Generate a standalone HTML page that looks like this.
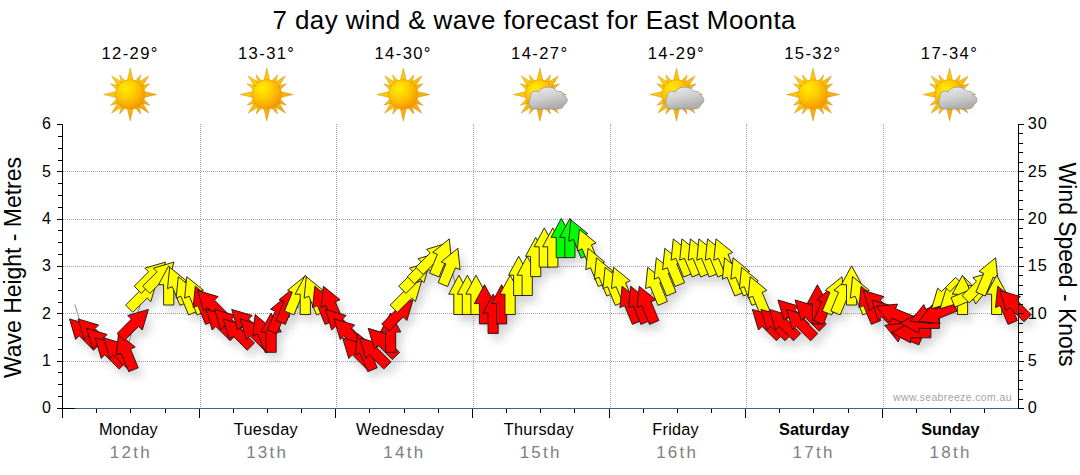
<!DOCTYPE html>
<html><head><meta charset="utf-8"><title>7 day wind &amp; wave forecast for East Moonta</title>
<style>html,body{margin:0;padding:0;background:#fff;}body{width:1080px;height:475px;overflow:hidden;font-family:"Liberation Sans",sans-serif;}svg{display:block;}text{font-family:"Liberation Sans",sans-serif;}</style>
</head><body>
<svg width="1080" height="475" viewBox="0 0 1080 475">
<defs>
<radialGradient id="sunG" cx="0.36" cy="0.30" r="0.78"><stop offset="0" stop-color="#ffee00"/><stop offset="0.45" stop-color="#ffc800"/><stop offset="1" stop-color="#f28e00"/></radialGradient>
<linearGradient id="rayG" x1="0" y1="0" x2="1" y2="1"><stop offset="0" stop-color="#ffe000"/><stop offset="1" stop-color="#f59a10"/></linearGradient>
<linearGradient id="cloudG" x1="0" y1="0" x2="0.35" y2="1"><stop offset="0" stop-color="#ececec"/><stop offset="0.55" stop-color="#d0d0d0"/><stop offset="1" stop-color="#aeaeae"/></linearGradient>
<filter id="sh" x="-50%" y="-50%" width="200%" height="200%"><feGaussianBlur stdDeviation="5"/></filter>
</defs>
<rect width="1080" height="475" fill="#ffffff"/>
<text x="534" y="29" font-size="26" text-anchor="middle" textLength="523" lengthAdjust="spacing" fill="#000">7 day wind &amp; wave forecast for East Moonta</text>
<text x="129.4" y="59" font-size="16.6" text-anchor="middle" textLength="56.0" lengthAdjust="spacing" fill="#000">12-29°</text>
<g transform="translate(130.2,94.5)"><path d="M3.20 -13.00L0.00 -26.40L-3.20 -13.00ZM8.40 -10.23L10.64 -19.60L4.01 -12.62ZM11.46 -6.93L18.53 -18.53L6.93 -11.46ZM12.62 -4.01L19.60 -10.64L10.23 -8.40ZM13.00 3.20L26.40 -0.00L13.00 -3.20ZM10.23 8.40L19.60 10.64L12.62 4.01ZM6.93 11.46L18.53 18.53L11.46 6.93ZM4.01 12.62L10.64 19.60L8.40 10.23ZM-3.20 13.00L0.00 26.40L3.20 13.00ZM-8.40 10.23L-10.64 19.60L-4.01 12.62ZM-11.46 6.93L-18.53 18.53L-6.93 11.46ZM-12.62 4.01L-19.60 10.64L-10.23 8.40ZM-13.00 -3.20L-26.40 0.00L-13.00 3.20ZM-10.23 -8.40L-19.60 -10.64L-12.62 -4.01ZM-6.93 -11.46L-18.53 -18.53L-11.46 -6.93ZM-4.01 -12.62L-10.64 -19.60L-8.40 -10.23Z" fill="url(#rayG)" stroke="#c8901c" stroke-width="0.5"/><circle cx="0" cy="0" r="14.8" fill="url(#sunG)" stroke="#e89a08" stroke-width="0.6"/></g>
<text x="266.0" y="59" font-size="16.6" text-anchor="middle" textLength="56.0" lengthAdjust="spacing" fill="#000">13-31°</text>
<g transform="translate(266.8,94.5)"><path d="M3.20 -13.00L0.00 -26.40L-3.20 -13.00ZM8.40 -10.23L10.64 -19.60L4.01 -12.62ZM11.46 -6.93L18.53 -18.53L6.93 -11.46ZM12.62 -4.01L19.60 -10.64L10.23 -8.40ZM13.00 3.20L26.40 -0.00L13.00 -3.20ZM10.23 8.40L19.60 10.64L12.62 4.01ZM6.93 11.46L18.53 18.53L11.46 6.93ZM4.01 12.62L10.64 19.60L8.40 10.23ZM-3.20 13.00L0.00 26.40L3.20 13.00ZM-8.40 10.23L-10.64 19.60L-4.01 12.62ZM-11.46 6.93L-18.53 18.53L-6.93 11.46ZM-12.62 4.01L-19.60 10.64L-10.23 8.40ZM-13.00 -3.20L-26.40 0.00L-13.00 3.20ZM-10.23 -8.40L-19.60 -10.64L-12.62 -4.01ZM-6.93 -11.46L-18.53 -18.53L-11.46 -6.93ZM-4.01 -12.62L-10.64 -19.60L-8.40 -10.23Z" fill="url(#rayG)" stroke="#c8901c" stroke-width="0.5"/><circle cx="0" cy="0" r="14.8" fill="url(#sunG)" stroke="#e89a08" stroke-width="0.6"/></g>
<text x="402.5" y="59" font-size="16.6" text-anchor="middle" textLength="56.0" lengthAdjust="spacing" fill="#000">14-30°</text>
<g transform="translate(403.3,94.5)"><path d="M3.20 -13.00L0.00 -26.40L-3.20 -13.00ZM8.40 -10.23L10.64 -19.60L4.01 -12.62ZM11.46 -6.93L18.53 -18.53L6.93 -11.46ZM12.62 -4.01L19.60 -10.64L10.23 -8.40ZM13.00 3.20L26.40 -0.00L13.00 -3.20ZM10.23 8.40L19.60 10.64L12.62 4.01ZM6.93 11.46L18.53 18.53L11.46 6.93ZM4.01 12.62L10.64 19.60L8.40 10.23ZM-3.20 13.00L0.00 26.40L3.20 13.00ZM-8.40 10.23L-10.64 19.60L-4.01 12.62ZM-11.46 6.93L-18.53 18.53L-6.93 11.46ZM-12.62 4.01L-19.60 10.64L-10.23 8.40ZM-13.00 -3.20L-26.40 0.00L-13.00 3.20ZM-10.23 -8.40L-19.60 -10.64L-12.62 -4.01ZM-6.93 -11.46L-18.53 -18.53L-11.46 -6.93ZM-4.01 -12.62L-10.64 -19.60L-8.40 -10.23Z" fill="url(#rayG)" stroke="#c8901c" stroke-width="0.5"/><circle cx="0" cy="0" r="14.8" fill="url(#sunG)" stroke="#e89a08" stroke-width="0.6"/></g>
<text x="539.1" y="59" font-size="16.6" text-anchor="middle" textLength="56.0" lengthAdjust="spacing" fill="#000">14-27°</text>
<g transform="translate(539.9,94.5)"><path d="M3.20 -13.00L0.00 -26.40L-3.20 -13.00ZM8.40 -10.23L10.64 -19.60L4.01 -12.62ZM11.46 -6.93L18.53 -18.53L6.93 -11.46ZM12.62 -4.01L19.60 -10.64L10.23 -8.40ZM13.00 3.20L26.40 -0.00L13.00 -3.20ZM10.23 8.40L19.60 10.64L12.62 4.01ZM6.93 11.46L18.53 18.53L11.46 6.93ZM4.01 12.62L10.64 19.60L8.40 10.23ZM-3.20 13.00L0.00 26.40L3.20 13.00ZM-8.40 10.23L-10.64 19.60L-4.01 12.62ZM-11.46 6.93L-18.53 18.53L-6.93 11.46ZM-12.62 4.01L-19.60 10.64L-10.23 8.40ZM-13.00 -3.20L-26.40 0.00L-13.00 3.20ZM-10.23 -8.40L-19.60 -10.64L-12.62 -4.01ZM-6.93 -11.46L-18.53 -18.53L-11.46 -6.93ZM-4.01 -12.62L-10.64 -19.60L-8.40 -10.23Z" fill="url(#rayG)" stroke="#c8901c" stroke-width="0.5"/><circle cx="0" cy="0" r="14.8" fill="url(#sunG)" stroke="#e89a08" stroke-width="0.6"/></g>
<g transform="translate(539.9,94.5)"><path d="M-5 14.5 C-11.5 14.5 -12 6.5 -9.5 3.5 C-10.5 -2 -5.5 -5 -1.5 -2.5 C1 -8.5 13.5 -9.5 17.5 -3 C21 -4 24.5 -1.5 23.5 1.2 C27.8 1.5 28.8 8 24.5 9.8 C24 13 21 14.5 18 14.5 Z" fill="url(#cloudG)" stroke="#8e8e8e" stroke-width="0.7"/></g>
<text x="675.7" y="59" font-size="16.6" text-anchor="middle" textLength="56.0" lengthAdjust="spacing" fill="#000">14-29°</text>
<g transform="translate(676.5,94.5)"><path d="M3.20 -13.00L0.00 -26.40L-3.20 -13.00ZM8.40 -10.23L10.64 -19.60L4.01 -12.62ZM11.46 -6.93L18.53 -18.53L6.93 -11.46ZM12.62 -4.01L19.60 -10.64L10.23 -8.40ZM13.00 3.20L26.40 -0.00L13.00 -3.20ZM10.23 8.40L19.60 10.64L12.62 4.01ZM6.93 11.46L18.53 18.53L11.46 6.93ZM4.01 12.62L10.64 19.60L8.40 10.23ZM-3.20 13.00L0.00 26.40L3.20 13.00ZM-8.40 10.23L-10.64 19.60L-4.01 12.62ZM-11.46 6.93L-18.53 18.53L-6.93 11.46ZM-12.62 4.01L-19.60 10.64L-10.23 8.40ZM-13.00 -3.20L-26.40 0.00L-13.00 3.20ZM-10.23 -8.40L-19.60 -10.64L-12.62 -4.01ZM-6.93 -11.46L-18.53 -18.53L-11.46 -6.93ZM-4.01 -12.62L-10.64 -19.60L-8.40 -10.23Z" fill="url(#rayG)" stroke="#c8901c" stroke-width="0.5"/><circle cx="0" cy="0" r="14.8" fill="url(#sunG)" stroke="#e89a08" stroke-width="0.6"/></g>
<g transform="translate(676.5,94.5)"><path d="M-5 14.5 C-11.5 14.5 -12 6.5 -9.5 3.5 C-10.5 -2 -5.5 -5 -1.5 -2.5 C1 -8.5 13.5 -9.5 17.5 -3 C21 -4 24.5 -1.5 23.5 1.2 C27.8 1.5 28.8 8 24.5 9.8 C24 13 21 14.5 18 14.5 Z" fill="url(#cloudG)" stroke="#8e8e8e" stroke-width="0.7"/></g>
<text x="812.2" y="59" font-size="16.6" text-anchor="middle" textLength="56.0" lengthAdjust="spacing" fill="#000">15-32°</text>
<g transform="translate(813.0,94.5)"><path d="M3.20 -13.00L0.00 -26.40L-3.20 -13.00ZM8.40 -10.23L10.64 -19.60L4.01 -12.62ZM11.46 -6.93L18.53 -18.53L6.93 -11.46ZM12.62 -4.01L19.60 -10.64L10.23 -8.40ZM13.00 3.20L26.40 -0.00L13.00 -3.20ZM10.23 8.40L19.60 10.64L12.62 4.01ZM6.93 11.46L18.53 18.53L11.46 6.93ZM4.01 12.62L10.64 19.60L8.40 10.23ZM-3.20 13.00L0.00 26.40L3.20 13.00ZM-8.40 10.23L-10.64 19.60L-4.01 12.62ZM-11.46 6.93L-18.53 18.53L-6.93 11.46ZM-12.62 4.01L-19.60 10.64L-10.23 8.40ZM-13.00 -3.20L-26.40 0.00L-13.00 3.20ZM-10.23 -8.40L-19.60 -10.64L-12.62 -4.01ZM-6.93 -11.46L-18.53 -18.53L-11.46 -6.93ZM-4.01 -12.62L-10.64 -19.60L-8.40 -10.23Z" fill="url(#rayG)" stroke="#c8901c" stroke-width="0.5"/><circle cx="0" cy="0" r="14.8" fill="url(#sunG)" stroke="#e89a08" stroke-width="0.6"/></g>
<text x="948.8" y="59" font-size="16.6" text-anchor="middle" textLength="56.0" lengthAdjust="spacing" fill="#000">17-34°</text>
<g transform="translate(949.6,94.5)"><path d="M3.20 -13.00L0.00 -26.40L-3.20 -13.00ZM8.40 -10.23L10.64 -19.60L4.01 -12.62ZM11.46 -6.93L18.53 -18.53L6.93 -11.46ZM12.62 -4.01L19.60 -10.64L10.23 -8.40ZM13.00 3.20L26.40 -0.00L13.00 -3.20ZM10.23 8.40L19.60 10.64L12.62 4.01ZM6.93 11.46L18.53 18.53L11.46 6.93ZM4.01 12.62L10.64 19.60L8.40 10.23ZM-3.20 13.00L0.00 26.40L3.20 13.00ZM-8.40 10.23L-10.64 19.60L-4.01 12.62ZM-11.46 6.93L-18.53 18.53L-6.93 11.46ZM-12.62 4.01L-19.60 10.64L-10.23 8.40ZM-13.00 -3.20L-26.40 0.00L-13.00 3.20ZM-10.23 -8.40L-19.60 -10.64L-12.62 -4.01ZM-6.93 -11.46L-18.53 -18.53L-11.46 -6.93ZM-4.01 -12.62L-10.64 -19.60L-8.40 -10.23Z" fill="url(#rayG)" stroke="#c8901c" stroke-width="0.5"/><circle cx="0" cy="0" r="14.8" fill="url(#sunG)" stroke="#e89a08" stroke-width="0.6"/></g>
<g transform="translate(949.6,94.5)"><path d="M-5 14.5 C-11.5 14.5 -12 6.5 -9.5 3.5 C-10.5 -2 -5.5 -5 -1.5 -2.5 C1 -8.5 13.5 -9.5 17.5 -3 C21 -4 24.5 -1.5 23.5 1.2 C27.8 1.5 28.8 8 24.5 9.8 C24 13 21 14.5 18 14.5 Z" fill="url(#cloudG)" stroke="#8e8e8e" stroke-width="0.7"/></g>
<line x1="63" y1="361.5" x2="1018" y2="361.5" stroke="#a0a0a0" stroke-width="1" stroke-dasharray="1 1" shape-rendering="crispEdges"/>
<line x1="63" y1="313.5" x2="1018" y2="313.5" stroke="#a0a0a0" stroke-width="1" stroke-dasharray="1 1" shape-rendering="crispEdges"/>
<line x1="63" y1="266.5" x2="1018" y2="266.5" stroke="#a0a0a0" stroke-width="1" stroke-dasharray="1 1" shape-rendering="crispEdges"/>
<line x1="63" y1="219.5" x2="1018" y2="219.5" stroke="#a0a0a0" stroke-width="1" stroke-dasharray="1 1" shape-rendering="crispEdges"/>
<line x1="63" y1="171.5" x2="1018" y2="171.5" stroke="#a0a0a0" stroke-width="1" stroke-dasharray="1 1" shape-rendering="crispEdges"/>
<line x1="200.5" y1="124" x2="200.5" y2="408" stroke="#a0a0a0" stroke-width="1" stroke-dasharray="1 1" shape-rendering="crispEdges"/>
<line x1="336.5" y1="124" x2="336.5" y2="408" stroke="#a0a0a0" stroke-width="1" stroke-dasharray="1 1" shape-rendering="crispEdges"/>
<line x1="473.5" y1="124" x2="473.5" y2="408" stroke="#a0a0a0" stroke-width="1" stroke-dasharray="1 1" shape-rendering="crispEdges"/>
<line x1="610.5" y1="124" x2="610.5" y2="408" stroke="#a0a0a0" stroke-width="1" stroke-dasharray="1 1" shape-rendering="crispEdges"/>
<line x1="746.5" y1="124" x2="746.5" y2="408" stroke="#a0a0a0" stroke-width="1" stroke-dasharray="1 1" shape-rendering="crispEdges"/>
<line x1="883.5" y1="124" x2="883.5" y2="408" stroke="#a0a0a0" stroke-width="1" stroke-dasharray="1 1" shape-rendering="crispEdges"/>
<polyline points="74.8,304.3 83.3,332.7 91.9,332.7 100.4,342.2 108.9,351.6 117.5,351.6 126.0,351.6 134.6,323.2 143.1,294.9 151.6,275.9 160.2,275.9 168.7,285.4 177.2,285.4 185.8,294.9 194.3,294.9 202.8,304.3 211.4,304.3 219.9,323.2 228.4,323.2 237.0,332.7 245.5,323.2 254.1,332.7 262.6,332.7 271.1,332.7 279.7,313.8 288.2,304.3 296.7,294.9 305.3,294.9 313.8,294.9 322.3,304.3 330.9,304.3 339.4,323.2 347.9,332.7 356.5,351.6 365.0,351.6 373.6,351.6 382.1,342.2 390.6,332.7 399.2,313.8 407.7,294.9 416.2,275.9 424.8,266.4 433.3,257.0 441.8,257.0 450.4,266.4 458.9,294.9 467.4,294.9 476.0,294.9 484.5,304.3 493.1,313.8 501.6,304.3 510.1,294.9 518.7,275.9 527.2,275.9 535.7,257.0 544.3,247.5 552.8,247.5 561.3,238.0 569.9,238.0 578.4,238.0 586.9,247.5 595.5,266.4 604.0,275.9 612.6,285.4 621.1,285.4 629.6,304.3 638.2,304.3 646.7,304.3 655.2,285.4 663.8,275.9 672.3,266.4 680.8,257.0 689.4,257.0 697.9,257.0 706.4,257.0 715.0,257.0 723.5,257.0 732.1,275.9 740.6,275.9 749.1,285.4 757.7,294.9 766.2,323.2 774.7,323.2 783.3,323.2 791.8,313.8 800.3,323.2 808.9,313.8 817.4,304.3 825.9,304.3 834.5,294.9 843.0,294.9 851.6,285.4 860.1,294.9 868.6,304.3 877.2,304.3 885.7,313.8 894.2,313.8 902.8,332.7 911.3,332.7 919.8,323.2 928.4,313.8 936.9,313.8 945.4,294.9 954.0,294.9 962.5,294.9 971.1,294.9 979.6,285.4 988.1,275.9 996.7,294.9 1005.2,304.3 1013.7,304.3" fill="none" stroke="#8c8c8c" stroke-width="1"/>
<g filter="url(#sh)" opacity="0.17" transform="translate(4.5,7)">
<polygon points="69.5,318.9 90.1,325.0 86.5,328.6 100.8,343.0 93.6,350.2 79.2,335.8 75.6,339.4" fill="#000"/>
<polygon points="78.0,318.9 98.6,325.0 95.0,328.6 109.3,343.0 102.1,350.2 87.8,335.8 84.2,339.4" fill="#000"/>
<polygon points="86.6,328.3 107.1,334.5 103.5,338.1 117.9,352.4 110.7,359.6 96.3,345.3 92.7,348.9" fill="#000"/>
<polygon points="95.1,337.8 115.7,343.9 112.1,347.5 126.4,361.9 119.2,369.1 104.8,354.8 101.2,358.4" fill="#000"/>
<polygon points="103.6,337.8 124.2,343.9 120.6,347.5 134.9,361.9 127.7,369.1 113.4,354.8 109.8,358.4" fill="#000"/>
<polygon points="118.5,333.5 135.2,347.1 130.5,349.1 138.2,367.8 128.8,371.7 121.0,353.0 116.3,354.9" fill="#000"/>
<polygon points="148.4,309.4 142.3,330.0 138.7,326.4 124.3,340.7 117.1,333.5 131.4,319.1 127.8,315.5" fill="#000"/>
<polygon points="156.9,281.0 150.8,301.6 147.2,298.0 132.8,312.3 125.6,305.1 140.0,290.7 136.4,287.1" fill="#000"/>
<polygon points="165.5,262.1 159.3,282.6 155.7,279.0 141.4,293.4 134.2,286.2 148.5,271.8 144.9,268.2" fill="#000"/>
<polygon points="174.0,262.1 167.9,282.6 164.3,279.0 149.9,293.4 142.7,286.2 157.0,271.8 153.4,268.2" fill="#000"/>
<polygon points="168.7,265.8 178.9,284.7 173.8,284.7 173.8,305.0 163.6,305.0 163.6,284.7 158.5,284.7" fill="#000"/>
<polygon points="169.7,267.3 186.4,280.8 181.7,282.8 189.4,301.5 180.0,305.4 172.3,286.7 167.5,288.6" fill="#000"/>
<polygon points="178.3,276.7 194.9,290.3 190.2,292.3 198.0,311.0 188.6,314.9 180.8,296.2 176.1,298.1" fill="#000"/>
<polygon points="186.8,276.7 203.5,290.3 198.7,292.3 206.5,311.0 197.1,314.9 189.3,296.2 184.6,298.1" fill="#000"/>
<polygon points="195.3,286.2 212.0,299.8 207.3,301.7 215.1,320.5 205.6,324.4 197.9,305.6 193.1,307.6" fill="#000"/>
<polygon points="197.5,290.5 218.1,296.6 214.5,300.2 228.8,314.6 221.6,321.8 207.3,307.4 203.7,311.0" fill="#000"/>
<polygon points="206.1,309.4 226.6,315.5 223.0,319.1 237.4,333.5 230.2,340.7 215.8,326.4 212.2,330.0" fill="#000"/>
<polygon points="214.6,309.4 235.2,315.5 231.6,319.1 245.9,333.5 238.7,340.7 224.3,326.4 220.7,330.0" fill="#000"/>
<polygon points="223.1,318.9 243.7,325.0 240.1,328.6 254.4,343.0 247.2,350.2 232.9,335.8 229.3,339.4" fill="#000"/>
<polygon points="231.7,309.4 252.2,315.5 248.6,319.1 263.0,333.5 255.8,340.7 241.4,326.4 237.8,330.0" fill="#000"/>
<polygon points="240.2,318.9 260.8,325.0 257.2,328.6 271.5,343.0 264.3,350.2 250.0,335.8 246.3,339.4" fill="#000"/>
<polygon points="255.1,314.6 271.7,328.2 267.0,330.1 274.8,348.9 265.4,352.8 257.6,334.0 252.9,336.0" fill="#000"/>
<polygon points="271.1,313.1 281.3,332.0 276.2,332.0 276.2,352.3 266.0,352.3 266.0,332.0 260.9,332.0" fill="#000"/>
<polygon points="287.2,295.7 289.4,317.0 284.6,315.1 276.9,333.8 267.4,329.9 275.2,311.2 270.5,309.2" fill="#000"/>
<polygon points="295.7,286.2 297.9,307.6 293.2,305.6 285.4,324.4 276.0,320.5 283.8,301.7 279.0,299.8" fill="#000"/>
<polygon points="304.2,276.7 306.4,298.1 301.7,296.2 293.9,314.9 284.5,311.0 292.3,292.3 287.6,290.3" fill="#000"/>
<polygon points="305.3,275.2 315.5,294.2 310.4,294.2 310.4,314.5 300.2,314.5 300.2,294.2 295.1,294.2" fill="#000"/>
<polygon points="306.3,276.7 323.0,290.3 318.2,292.3 326.0,311.0 316.6,314.9 308.8,296.2 304.1,298.1" fill="#000"/>
<polygon points="314.8,286.2 331.5,299.8 326.8,301.7 334.6,320.5 325.1,324.4 317.4,305.6 312.6,307.6" fill="#000"/>
<polygon points="323.4,286.2 340.0,299.8 335.3,301.7 343.1,320.5 333.7,324.4 325.9,305.6 321.2,307.6" fill="#000"/>
<polygon points="325.6,309.4 346.1,315.5 342.5,319.1 356.9,333.5 349.7,340.7 335.3,326.4 331.7,330.0" fill="#000"/>
<polygon points="334.1,318.9 354.7,325.0 351.1,328.6 365.4,343.0 358.2,350.2 343.8,335.8 340.2,339.4" fill="#000"/>
<polygon points="342.6,337.8 363.2,343.9 359.6,347.5 373.9,361.9 366.7,369.1 352.4,354.8 348.8,358.4" fill="#000"/>
<polygon points="357.5,333.5 374.2,347.1 369.5,349.1 377.2,367.8 367.8,371.7 360.0,353.0 355.3,354.9" fill="#000"/>
<polygon points="359.7,337.8 380.3,343.9 376.7,347.5 391.0,361.9 383.8,369.1 369.5,354.8 365.8,358.4" fill="#000"/>
<polygon points="368.2,328.3 388.8,334.5 385.2,338.1 399.6,352.4 392.3,359.6 378.0,345.3 374.4,348.9" fill="#000"/>
<polygon points="390.6,313.1 400.8,332.0 395.7,332.0 395.7,352.3 385.5,352.3 385.5,332.0 380.4,332.0" fill="#000"/>
<polygon points="413.0,299.9 406.9,320.5 403.3,316.9 388.9,331.2 381.7,324.0 396.0,309.7 392.4,306.1" fill="#000"/>
<polygon points="421.6,281.0 415.4,301.6 411.8,298.0 397.4,312.3 390.2,305.1 404.6,290.7 401.0,287.1" fill="#000"/>
<polygon points="430.1,262.1 423.9,282.6 420.3,279.0 406.0,293.4 398.8,286.2 413.1,271.8 409.5,268.2" fill="#000"/>
<polygon points="438.6,252.6 432.5,273.2 428.9,269.6 414.5,283.9 407.3,276.7 421.7,262.3 418.1,258.7" fill="#000"/>
<polygon points="447.2,243.1 441.0,263.7 437.4,260.1 423.1,274.4 415.8,267.2 430.2,252.9 426.6,249.3" fill="#000"/>
<polygon points="449.3,238.9 451.5,260.2 446.8,258.3 439.1,277.0 429.6,273.1 437.4,254.4 432.7,252.4" fill="#000"/>
<polygon points="457.9,248.3 460.1,269.7 455.4,267.8 447.6,286.5 438.2,282.6 445.9,263.9 441.2,261.9" fill="#000"/>
<polygon points="458.9,275.2 469.1,294.2 464.0,294.2 464.0,314.5 453.8,314.5 453.8,294.2 448.7,294.2" fill="#000"/>
<polygon points="467.4,275.2 477.6,294.2 472.5,294.2 472.5,314.5 462.3,314.5 462.3,294.2 457.2,294.2" fill="#000"/>
<polygon points="476.0,275.2 486.2,294.2 481.1,294.2 481.1,314.5 470.9,314.5 470.9,294.2 465.8,294.2" fill="#000"/>
<polygon points="484.5,284.7 494.7,303.6 489.6,303.6 489.6,323.9 479.4,323.9 479.4,303.6 474.3,303.6" fill="#000"/>
<polygon points="493.1,294.2 503.3,313.1 498.2,313.1 498.2,333.4 488.0,333.4 488.0,313.1 482.9,313.1" fill="#000"/>
<polygon points="501.6,284.7 511.8,303.6 506.7,303.6 506.7,323.9 496.5,323.9 496.5,303.6 491.4,303.6" fill="#000"/>
<polygon points="510.1,275.2 520.3,294.2 515.2,294.2 515.2,314.5 505.0,314.5 505.0,294.2 499.9,294.2" fill="#000"/>
<polygon points="518.7,256.3 528.9,275.2 523.8,275.2 523.8,295.5 513.6,295.5 513.6,275.2 508.5,275.2" fill="#000"/>
<polygon points="527.2,256.3 537.4,275.2 532.3,275.2 532.3,295.5 522.1,295.5 522.1,275.2 517.0,275.2" fill="#000"/>
<polygon points="535.7,237.4 545.9,256.3 540.8,256.3 540.8,276.6 530.6,276.6 530.6,256.3 525.5,256.3" fill="#000"/>
<polygon points="544.3,227.9 554.5,246.8 549.4,246.8 549.4,267.1 539.2,267.1 539.2,246.8 534.1,246.8" fill="#000"/>
<polygon points="552.8,227.9 563.0,246.8 557.9,246.8 557.9,267.1 547.7,267.1 547.7,246.8 542.6,246.8" fill="#000"/>
<polygon points="561.3,218.4 571.5,237.3 566.4,237.3 566.4,257.6 556.2,257.6 556.2,237.3 551.1,237.3" fill="#000"/>
<polygon points="569.9,218.4 580.1,237.3 575.0,237.3 575.0,257.6 564.8,257.6 564.8,237.3 559.7,237.3" fill="#000"/>
<polygon points="570.9,219.9 587.6,233.5 582.9,235.5 590.6,254.2 581.2,258.1 573.4,239.4 568.7,241.3" fill="#000"/>
<polygon points="579.4,229.4 596.1,243.0 591.4,244.9 599.2,263.7 589.7,267.6 582.0,248.8 577.3,250.8" fill="#000"/>
<polygon points="588.0,248.3 604.6,261.9 599.9,263.9 607.7,282.6 598.3,286.5 590.5,267.8 585.8,269.7" fill="#000"/>
<polygon points="596.5,257.8 613.2,271.4 608.5,273.3 616.2,292.1 606.8,296.0 599.0,277.2 594.3,279.2" fill="#000"/>
<polygon points="605.1,267.3 621.7,280.8 617.0,282.8 624.8,301.5 615.3,305.4 607.6,286.7 602.9,288.6" fill="#000"/>
<polygon points="613.6,267.3 630.2,280.8 625.5,282.8 633.3,301.5 623.9,305.4 616.1,286.7 611.4,288.6" fill="#000"/>
<polygon points="622.1,286.2 638.8,299.8 634.1,301.7 641.8,320.5 632.4,324.4 624.6,305.6 619.9,307.6" fill="#000"/>
<polygon points="630.7,286.2 647.3,299.8 642.6,301.7 650.4,320.5 640.9,324.4 633.2,305.6 628.5,307.6" fill="#000"/>
<polygon points="639.2,286.2 655.9,299.8 651.1,301.7 658.9,320.5 649.5,324.4 641.7,305.6 637.0,307.6" fill="#000"/>
<polygon points="647.7,267.3 664.4,280.8 659.7,282.8 667.4,301.5 658.0,305.4 650.3,286.7 645.5,288.6" fill="#000"/>
<polygon points="656.3,257.8 672.9,271.4 668.2,273.3 676.0,292.1 666.6,296.0 658.8,277.2 654.1,279.2" fill="#000"/>
<polygon points="664.8,248.3 681.5,261.9 676.7,263.9 684.5,282.6 675.1,286.5 667.3,267.8 662.6,269.7" fill="#000"/>
<polygon points="673.3,238.9 690.0,252.4 685.3,254.4 693.1,273.1 683.6,277.0 675.9,258.3 671.1,260.2" fill="#000"/>
<polygon points="681.9,238.9 698.5,252.4 693.8,254.4 701.6,273.1 692.2,277.0 684.4,258.3 679.7,260.2" fill="#000"/>
<polygon points="690.4,238.9 707.1,252.4 702.4,254.4 710.1,273.1 700.7,277.0 692.9,258.3 688.2,260.2" fill="#000"/>
<polygon points="698.9,238.9 715.6,252.4 710.9,254.4 718.7,273.1 709.2,277.0 701.5,258.3 696.8,260.2" fill="#000"/>
<polygon points="707.5,238.9 724.1,252.4 719.4,254.4 727.2,273.1 717.8,277.0 710.0,258.3 705.3,260.2" fill="#000"/>
<polygon points="716.0,238.9 732.7,252.4 728.0,254.4 735.7,273.1 726.3,277.0 718.5,258.3 713.8,260.2" fill="#000"/>
<polygon points="724.6,257.8 741.2,271.4 736.5,273.3 744.3,292.1 734.8,296.0 727.1,277.2 722.4,279.2" fill="#000"/>
<polygon points="733.1,257.8 749.7,271.4 745.0,273.3 752.8,292.1 743.4,296.0 735.6,277.2 730.9,279.2" fill="#000"/>
<polygon points="741.6,267.3 758.3,280.8 753.6,282.8 761.3,301.5 751.9,305.4 744.1,286.7 739.4,288.6" fill="#000"/>
<polygon points="750.2,276.7 766.8,290.3 762.1,292.3 769.9,311.0 760.4,314.9 752.7,296.2 748.0,298.1" fill="#000"/>
<polygon points="752.3,309.4 772.9,315.5 769.3,319.1 783.7,333.5 776.4,340.7 762.1,326.4 758.5,330.0" fill="#000"/>
<polygon points="760.9,309.4 781.4,315.5 777.8,319.1 792.2,333.5 785.0,340.7 770.6,326.4 767.0,330.0" fill="#000"/>
<polygon points="769.4,309.4 790.0,315.5 786.4,319.1 800.7,333.5 793.5,340.7 779.2,326.4 775.6,330.0" fill="#000"/>
<polygon points="777.9,299.9 798.5,306.1 794.9,309.7 809.3,324.0 802.1,331.2 787.7,316.9 784.1,320.5" fill="#000"/>
<polygon points="786.5,309.4 807.1,315.5 803.5,319.1 817.8,333.5 810.6,340.7 796.2,326.4 792.6,330.0" fill="#000"/>
<polygon points="795.0,299.9 815.6,306.1 812.0,309.7 826.3,324.0 819.1,331.2 804.8,316.9 801.2,320.5" fill="#000"/>
<polygon points="817.4,284.7 827.6,303.6 822.5,303.6 822.5,323.9 812.3,323.9 812.3,303.6 807.2,303.6" fill="#000"/>
<polygon points="833.4,286.2 835.6,307.6 830.9,305.6 823.2,324.4 813.7,320.5 821.5,301.7 816.8,299.8" fill="#000"/>
<polygon points="842.0,276.7 844.2,298.1 839.5,296.2 831.7,314.9 822.3,311.0 830.0,292.3 825.3,290.3" fill="#000"/>
<polygon points="850.5,276.7 852.7,298.1 848.0,296.2 840.2,314.9 830.8,311.0 838.6,292.3 833.9,290.3" fill="#000"/>
<polygon points="851.6,265.8 861.8,284.7 856.7,284.7 856.7,305.0 846.5,305.0 846.5,284.7 841.4,284.7" fill="#000"/>
<polygon points="852.6,276.7 869.2,290.3 864.5,292.3 872.3,311.0 862.9,314.9 855.1,296.2 850.4,298.1" fill="#000"/>
<polygon points="861.1,286.2 877.8,299.8 873.1,301.7 880.8,320.5 871.4,324.4 863.6,305.6 858.9,307.6" fill="#000"/>
<polygon points="863.3,290.5 883.9,296.6 880.3,300.2 894.6,314.6 887.4,321.8 873.1,307.4 869.5,311.0" fill="#000"/>
<polygon points="871.8,299.9 892.4,306.1 888.8,309.7 903.2,324.0 895.9,331.2 881.6,316.9 878.0,320.5" fill="#000"/>
<polygon points="876.1,306.3 897.5,304.1 895.5,308.8 914.3,316.6 910.4,326.0 891.6,318.2 889.7,322.9" fill="#000"/>
<polygon points="884.7,325.2 906.0,323.0 904.1,327.7 922.8,335.5 918.9,344.9 900.2,337.2 898.2,341.9" fill="#000"/>
<polygon points="891.7,332.7 910.6,322.5 910.6,327.6 930.9,327.6 930.9,337.8 910.6,337.8 910.6,342.9" fill="#000"/>
<polygon points="900.2,323.2 919.1,313.1 919.1,318.1 939.4,318.1 939.4,328.4 919.1,328.4 919.1,333.4" fill="#000"/>
<polygon points="910.3,321.3 923.8,304.6 925.8,309.3 944.5,301.6 948.4,311.0 929.7,318.8 931.6,323.5" fill="#000"/>
<polygon points="918.8,321.3 932.4,304.6 934.3,309.3 953.1,301.6 957.0,311.0 938.2,318.8 940.2,323.5" fill="#000"/>
<polygon points="931.6,308.7 937.7,288.1 941.3,291.7 955.7,277.4 962.9,284.6 948.6,299.0 952.2,302.6" fill="#000"/>
<polygon points="940.1,308.7 946.3,288.1 949.9,291.7 964.2,277.4 971.4,284.6 957.1,299.0 960.7,302.6" fill="#000"/>
<polygon points="962.5,275.2 972.7,294.2 967.6,294.2 967.6,314.5 957.4,314.5 957.4,294.2 952.3,294.2" fill="#000"/>
<polygon points="989.2,287.3 975.6,304.0 973.7,299.3 954.9,307.1 951.0,297.6 969.7,289.9 967.8,285.2" fill="#000"/>
<polygon points="993.4,271.5 987.3,292.1 983.7,288.5 969.3,302.8 962.1,295.6 976.5,281.3 972.9,277.7" fill="#000"/>
<polygon points="995.6,257.8 997.8,279.2 993.1,277.2 985.3,296.0 975.9,292.1 983.7,273.3 979.0,271.4" fill="#000"/>
<polygon points="996.7,275.2 1006.9,294.2 1001.8,294.2 1001.8,314.5 991.6,314.5 991.6,294.2 986.5,294.2" fill="#000"/>
<polygon points="997.7,286.2 1014.4,299.8 1009.6,301.7 1017.4,320.5 1008.0,324.4 1000.2,305.6 995.5,307.6" fill="#000"/>
<polygon points="999.9,290.5 1020.4,296.6 1016.8,300.2 1031.2,314.6 1024.0,321.8 1009.6,307.4 1006.0,311.0" fill="#000"/>
</g>
<g stroke="#141414" stroke-width="0.9" stroke-linejoin="miter">
<polygon points="69.5,318.9 90.1,325.0 86.5,328.6 100.8,343.0 93.6,350.2 79.2,335.8 75.6,339.4" fill="#ff0000"/>
<polygon points="78.0,318.9 98.6,325.0 95.0,328.6 109.3,343.0 102.1,350.2 87.8,335.8 84.2,339.4" fill="#ff0000"/>
<polygon points="86.6,328.3 107.1,334.5 103.5,338.1 117.9,352.4 110.7,359.6 96.3,345.3 92.7,348.9" fill="#ff0000"/>
<polygon points="95.1,337.8 115.7,343.9 112.1,347.5 126.4,361.9 119.2,369.1 104.8,354.8 101.2,358.4" fill="#ff0000"/>
<polygon points="103.6,337.8 124.2,343.9 120.6,347.5 134.9,361.9 127.7,369.1 113.4,354.8 109.8,358.4" fill="#ff0000"/>
<polygon points="118.5,333.5 135.2,347.1 130.5,349.1 138.2,367.8 128.8,371.7 121.0,353.0 116.3,354.9" fill="#ff0000"/>
<polygon points="148.4,309.4 142.3,330.0 138.7,326.4 124.3,340.7 117.1,333.5 131.4,319.1 127.8,315.5" fill="#ff0000"/>
<polygon points="156.9,281.0 150.8,301.6 147.2,298.0 132.8,312.3 125.6,305.1 140.0,290.7 136.4,287.1" fill="#ffff00"/>
<polygon points="165.5,262.1 159.3,282.6 155.7,279.0 141.4,293.4 134.2,286.2 148.5,271.8 144.9,268.2" fill="#ffff00"/>
<polygon points="174.0,262.1 167.9,282.6 164.3,279.0 149.9,293.4 142.7,286.2 157.0,271.8 153.4,268.2" fill="#ffff00"/>
<polygon points="168.7,265.8 178.9,284.7 173.8,284.7 173.8,305.0 163.6,305.0 163.6,284.7 158.5,284.7" fill="#ffff00"/>
<polygon points="169.7,267.3 186.4,280.8 181.7,282.8 189.4,301.5 180.0,305.4 172.3,286.7 167.5,288.6" fill="#ffff00"/>
<polygon points="178.3,276.7 194.9,290.3 190.2,292.3 198.0,311.0 188.6,314.9 180.8,296.2 176.1,298.1" fill="#ffff00"/>
<polygon points="186.8,276.7 203.5,290.3 198.7,292.3 206.5,311.0 197.1,314.9 189.3,296.2 184.6,298.1" fill="#ffff00"/>
<polygon points="195.3,286.2 212.0,299.8 207.3,301.7 215.1,320.5 205.6,324.4 197.9,305.6 193.1,307.6" fill="#ff0000"/>
<polygon points="197.5,290.5 218.1,296.6 214.5,300.2 228.8,314.6 221.6,321.8 207.3,307.4 203.7,311.0" fill="#ff0000"/>
<polygon points="206.1,309.4 226.6,315.5 223.0,319.1 237.4,333.5 230.2,340.7 215.8,326.4 212.2,330.0" fill="#ff0000"/>
<polygon points="214.6,309.4 235.2,315.5 231.6,319.1 245.9,333.5 238.7,340.7 224.3,326.4 220.7,330.0" fill="#ff0000"/>
<polygon points="223.1,318.9 243.7,325.0 240.1,328.6 254.4,343.0 247.2,350.2 232.9,335.8 229.3,339.4" fill="#ff0000"/>
<polygon points="231.7,309.4 252.2,315.5 248.6,319.1 263.0,333.5 255.8,340.7 241.4,326.4 237.8,330.0" fill="#ff0000"/>
<polygon points="240.2,318.9 260.8,325.0 257.2,328.6 271.5,343.0 264.3,350.2 250.0,335.8 246.3,339.4" fill="#ff0000"/>
<polygon points="255.1,314.6 271.7,328.2 267.0,330.1 274.8,348.9 265.4,352.8 257.6,334.0 252.9,336.0" fill="#ff0000"/>
<polygon points="271.1,313.1 281.3,332.0 276.2,332.0 276.2,352.3 266.0,352.3 266.0,332.0 260.9,332.0" fill="#ff0000"/>
<polygon points="287.2,295.7 289.4,317.0 284.6,315.1 276.9,333.8 267.4,329.9 275.2,311.2 270.5,309.2" fill="#ff0000"/>
<polygon points="295.7,286.2 297.9,307.6 293.2,305.6 285.4,324.4 276.0,320.5 283.8,301.7 279.0,299.8" fill="#ff0000"/>
<polygon points="304.2,276.7 306.4,298.1 301.7,296.2 293.9,314.9 284.5,311.0 292.3,292.3 287.6,290.3" fill="#ffff00"/>
<polygon points="305.3,275.2 315.5,294.2 310.4,294.2 310.4,314.5 300.2,314.5 300.2,294.2 295.1,294.2" fill="#ffff00"/>
<polygon points="306.3,276.7 323.0,290.3 318.2,292.3 326.0,311.0 316.6,314.9 308.8,296.2 304.1,298.1" fill="#ffff00"/>
<polygon points="314.8,286.2 331.5,299.8 326.8,301.7 334.6,320.5 325.1,324.4 317.4,305.6 312.6,307.6" fill="#ff0000"/>
<polygon points="323.4,286.2 340.0,299.8 335.3,301.7 343.1,320.5 333.7,324.4 325.9,305.6 321.2,307.6" fill="#ff0000"/>
<polygon points="325.6,309.4 346.1,315.5 342.5,319.1 356.9,333.5 349.7,340.7 335.3,326.4 331.7,330.0" fill="#ff0000"/>
<polygon points="334.1,318.9 354.7,325.0 351.1,328.6 365.4,343.0 358.2,350.2 343.8,335.8 340.2,339.4" fill="#ff0000"/>
<polygon points="342.6,337.8 363.2,343.9 359.6,347.5 373.9,361.9 366.7,369.1 352.4,354.8 348.8,358.4" fill="#ff0000"/>
<polygon points="357.5,333.5 374.2,347.1 369.5,349.1 377.2,367.8 367.8,371.7 360.0,353.0 355.3,354.9" fill="#ff0000"/>
<polygon points="359.7,337.8 380.3,343.9 376.7,347.5 391.0,361.9 383.8,369.1 369.5,354.8 365.8,358.4" fill="#ff0000"/>
<polygon points="368.2,328.3 388.8,334.5 385.2,338.1 399.6,352.4 392.3,359.6 378.0,345.3 374.4,348.9" fill="#ff0000"/>
<polygon points="390.6,313.1 400.8,332.0 395.7,332.0 395.7,352.3 385.5,352.3 385.5,332.0 380.4,332.0" fill="#ff0000"/>
<polygon points="413.0,299.9 406.9,320.5 403.3,316.9 388.9,331.2 381.7,324.0 396.0,309.7 392.4,306.1" fill="#ff0000"/>
<polygon points="421.6,281.0 415.4,301.6 411.8,298.0 397.4,312.3 390.2,305.1 404.6,290.7 401.0,287.1" fill="#ffff00"/>
<polygon points="430.1,262.1 423.9,282.6 420.3,279.0 406.0,293.4 398.8,286.2 413.1,271.8 409.5,268.2" fill="#ffff00"/>
<polygon points="438.6,252.6 432.5,273.2 428.9,269.6 414.5,283.9 407.3,276.7 421.7,262.3 418.1,258.7" fill="#ffff00"/>
<polygon points="447.2,243.1 441.0,263.7 437.4,260.1 423.1,274.4 415.8,267.2 430.2,252.9 426.6,249.3" fill="#ffff00"/>
<polygon points="449.3,238.9 451.5,260.2 446.8,258.3 439.1,277.0 429.6,273.1 437.4,254.4 432.7,252.4" fill="#ffff00"/>
<polygon points="457.9,248.3 460.1,269.7 455.4,267.8 447.6,286.5 438.2,282.6 445.9,263.9 441.2,261.9" fill="#ffff00"/>
<polygon points="458.9,275.2 469.1,294.2 464.0,294.2 464.0,314.5 453.8,314.5 453.8,294.2 448.7,294.2" fill="#ffff00"/>
<polygon points="467.4,275.2 477.6,294.2 472.5,294.2 472.5,314.5 462.3,314.5 462.3,294.2 457.2,294.2" fill="#ffff00"/>
<polygon points="476.0,275.2 486.2,294.2 481.1,294.2 481.1,314.5 470.9,314.5 470.9,294.2 465.8,294.2" fill="#ffff00"/>
<polygon points="484.5,284.7 494.7,303.6 489.6,303.6 489.6,323.9 479.4,323.9 479.4,303.6 474.3,303.6" fill="#ff0000"/>
<polygon points="493.1,294.2 503.3,313.1 498.2,313.1 498.2,333.4 488.0,333.4 488.0,313.1 482.9,313.1" fill="#ff0000"/>
<polygon points="501.6,284.7 511.8,303.6 506.7,303.6 506.7,323.9 496.5,323.9 496.5,303.6 491.4,303.6" fill="#ff0000"/>
<polygon points="510.1,275.2 520.3,294.2 515.2,294.2 515.2,314.5 505.0,314.5 505.0,294.2 499.9,294.2" fill="#ffff00"/>
<polygon points="518.7,256.3 528.9,275.2 523.8,275.2 523.8,295.5 513.6,295.5 513.6,275.2 508.5,275.2" fill="#ffff00"/>
<polygon points="527.2,256.3 537.4,275.2 532.3,275.2 532.3,295.5 522.1,295.5 522.1,275.2 517.0,275.2" fill="#ffff00"/>
<polygon points="535.7,237.4 545.9,256.3 540.8,256.3 540.8,276.6 530.6,276.6 530.6,256.3 525.5,256.3" fill="#ffff00"/>
<polygon points="544.3,227.9 554.5,246.8 549.4,246.8 549.4,267.1 539.2,267.1 539.2,246.8 534.1,246.8" fill="#ffff00"/>
<polygon points="552.8,227.9 563.0,246.8 557.9,246.8 557.9,267.1 547.7,267.1 547.7,246.8 542.6,246.8" fill="#ffff00"/>
<polygon points="561.3,218.4 571.5,237.3 566.4,237.3 566.4,257.6 556.2,257.6 556.2,237.3 551.1,237.3" fill="#00ff00"/>
<polygon points="569.9,218.4 580.1,237.3 575.0,237.3 575.0,257.6 564.8,257.6 564.8,237.3 559.7,237.3" fill="#00ff00"/>
<polygon points="570.9,219.9 587.6,233.5 582.9,235.5 590.6,254.2 581.2,258.1 573.4,239.4 568.7,241.3" fill="#00ff00"/>
<polygon points="579.4,229.4 596.1,243.0 591.4,244.9 599.2,263.7 589.7,267.6 582.0,248.8 577.3,250.8" fill="#ffff00"/>
<polygon points="588.0,248.3 604.6,261.9 599.9,263.9 607.7,282.6 598.3,286.5 590.5,267.8 585.8,269.7" fill="#ffff00"/>
<polygon points="596.5,257.8 613.2,271.4 608.5,273.3 616.2,292.1 606.8,296.0 599.0,277.2 594.3,279.2" fill="#ffff00"/>
<polygon points="605.1,267.3 621.7,280.8 617.0,282.8 624.8,301.5 615.3,305.4 607.6,286.7 602.9,288.6" fill="#ffff00"/>
<polygon points="613.6,267.3 630.2,280.8 625.5,282.8 633.3,301.5 623.9,305.4 616.1,286.7 611.4,288.6" fill="#ffff00"/>
<polygon points="622.1,286.2 638.8,299.8 634.1,301.7 641.8,320.5 632.4,324.4 624.6,305.6 619.9,307.6" fill="#ff0000"/>
<polygon points="630.7,286.2 647.3,299.8 642.6,301.7 650.4,320.5 640.9,324.4 633.2,305.6 628.5,307.6" fill="#ff0000"/>
<polygon points="639.2,286.2 655.9,299.8 651.1,301.7 658.9,320.5 649.5,324.4 641.7,305.6 637.0,307.6" fill="#ff0000"/>
<polygon points="647.7,267.3 664.4,280.8 659.7,282.8 667.4,301.5 658.0,305.4 650.3,286.7 645.5,288.6" fill="#ffff00"/>
<polygon points="656.3,257.8 672.9,271.4 668.2,273.3 676.0,292.1 666.6,296.0 658.8,277.2 654.1,279.2" fill="#ffff00"/>
<polygon points="664.8,248.3 681.5,261.9 676.7,263.9 684.5,282.6 675.1,286.5 667.3,267.8 662.6,269.7" fill="#ffff00"/>
<polygon points="673.3,238.9 690.0,252.4 685.3,254.4 693.1,273.1 683.6,277.0 675.9,258.3 671.1,260.2" fill="#ffff00"/>
<polygon points="681.9,238.9 698.5,252.4 693.8,254.4 701.6,273.1 692.2,277.0 684.4,258.3 679.7,260.2" fill="#ffff00"/>
<polygon points="690.4,238.9 707.1,252.4 702.4,254.4 710.1,273.1 700.7,277.0 692.9,258.3 688.2,260.2" fill="#ffff00"/>
<polygon points="698.9,238.9 715.6,252.4 710.9,254.4 718.7,273.1 709.2,277.0 701.5,258.3 696.8,260.2" fill="#ffff00"/>
<polygon points="707.5,238.9 724.1,252.4 719.4,254.4 727.2,273.1 717.8,277.0 710.0,258.3 705.3,260.2" fill="#ffff00"/>
<polygon points="716.0,238.9 732.7,252.4 728.0,254.4 735.7,273.1 726.3,277.0 718.5,258.3 713.8,260.2" fill="#ffff00"/>
<polygon points="724.6,257.8 741.2,271.4 736.5,273.3 744.3,292.1 734.8,296.0 727.1,277.2 722.4,279.2" fill="#ffff00"/>
<polygon points="733.1,257.8 749.7,271.4 745.0,273.3 752.8,292.1 743.4,296.0 735.6,277.2 730.9,279.2" fill="#ffff00"/>
<polygon points="741.6,267.3 758.3,280.8 753.6,282.8 761.3,301.5 751.9,305.4 744.1,286.7 739.4,288.6" fill="#ffff00"/>
<polygon points="750.2,276.7 766.8,290.3 762.1,292.3 769.9,311.0 760.4,314.9 752.7,296.2 748.0,298.1" fill="#ffff00"/>
<polygon points="752.3,309.4 772.9,315.5 769.3,319.1 783.7,333.5 776.4,340.7 762.1,326.4 758.5,330.0" fill="#ff0000"/>
<polygon points="760.9,309.4 781.4,315.5 777.8,319.1 792.2,333.5 785.0,340.7 770.6,326.4 767.0,330.0" fill="#ff0000"/>
<polygon points="769.4,309.4 790.0,315.5 786.4,319.1 800.7,333.5 793.5,340.7 779.2,326.4 775.6,330.0" fill="#ff0000"/>
<polygon points="777.9,299.9 798.5,306.1 794.9,309.7 809.3,324.0 802.1,331.2 787.7,316.9 784.1,320.5" fill="#ff0000"/>
<polygon points="786.5,309.4 807.1,315.5 803.5,319.1 817.8,333.5 810.6,340.7 796.2,326.4 792.6,330.0" fill="#ff0000"/>
<polygon points="795.0,299.9 815.6,306.1 812.0,309.7 826.3,324.0 819.1,331.2 804.8,316.9 801.2,320.5" fill="#ff0000"/>
<polygon points="817.4,284.7 827.6,303.6 822.5,303.6 822.5,323.9 812.3,323.9 812.3,303.6 807.2,303.6" fill="#ff0000"/>
<polygon points="833.4,286.2 835.6,307.6 830.9,305.6 823.2,324.4 813.7,320.5 821.5,301.7 816.8,299.8" fill="#ff0000"/>
<polygon points="842.0,276.7 844.2,298.1 839.5,296.2 831.7,314.9 822.3,311.0 830.0,292.3 825.3,290.3" fill="#ffff00"/>
<polygon points="850.5,276.7 852.7,298.1 848.0,296.2 840.2,314.9 830.8,311.0 838.6,292.3 833.9,290.3" fill="#ffff00"/>
<polygon points="851.6,265.8 861.8,284.7 856.7,284.7 856.7,305.0 846.5,305.0 846.5,284.7 841.4,284.7" fill="#ffff00"/>
<polygon points="852.6,276.7 869.2,290.3 864.5,292.3 872.3,311.0 862.9,314.9 855.1,296.2 850.4,298.1" fill="#ffff00"/>
<polygon points="861.1,286.2 877.8,299.8 873.1,301.7 880.8,320.5 871.4,324.4 863.6,305.6 858.9,307.6" fill="#ff0000"/>
<polygon points="863.3,290.5 883.9,296.6 880.3,300.2 894.6,314.6 887.4,321.8 873.1,307.4 869.5,311.0" fill="#ff0000"/>
<polygon points="871.8,299.9 892.4,306.1 888.8,309.7 903.2,324.0 895.9,331.2 881.6,316.9 878.0,320.5" fill="#ff0000"/>
<polygon points="876.1,306.3 897.5,304.1 895.5,308.8 914.3,316.6 910.4,326.0 891.6,318.2 889.7,322.9" fill="#ff0000"/>
<polygon points="884.7,325.2 906.0,323.0 904.1,327.7 922.8,335.5 918.9,344.9 900.2,337.2 898.2,341.9" fill="#ff0000"/>
<polygon points="891.7,332.7 910.6,322.5 910.6,327.6 930.9,327.6 930.9,337.8 910.6,337.8 910.6,342.9" fill="#ff0000"/>
<polygon points="900.2,323.2 919.1,313.1 919.1,318.1 939.4,318.1 939.4,328.4 919.1,328.4 919.1,333.4" fill="#ff0000"/>
<polygon points="910.3,321.3 923.8,304.6 925.8,309.3 944.5,301.6 948.4,311.0 929.7,318.8 931.6,323.5" fill="#ff0000"/>
<polygon points="918.8,321.3 932.4,304.6 934.3,309.3 953.1,301.6 957.0,311.0 938.2,318.8 940.2,323.5" fill="#ff0000"/>
<polygon points="931.6,308.7 937.7,288.1 941.3,291.7 955.7,277.4 962.9,284.6 948.6,299.0 952.2,302.6" fill="#ffff00"/>
<polygon points="940.1,308.7 946.3,288.1 949.9,291.7 964.2,277.4 971.4,284.6 957.1,299.0 960.7,302.6" fill="#ffff00"/>
<polygon points="962.5,275.2 972.7,294.2 967.6,294.2 967.6,314.5 957.4,314.5 957.4,294.2 952.3,294.2" fill="#ffff00"/>
<polygon points="989.2,287.3 975.6,304.0 973.7,299.3 954.9,307.1 951.0,297.6 969.7,289.9 967.8,285.2" fill="#ffff00"/>
<polygon points="993.4,271.5 987.3,292.1 983.7,288.5 969.3,302.8 962.1,295.6 976.5,281.3 972.9,277.7" fill="#ffff00"/>
<polygon points="995.6,257.8 997.8,279.2 993.1,277.2 985.3,296.0 975.9,292.1 983.7,273.3 979.0,271.4" fill="#ffff00"/>
<polygon points="996.7,275.2 1006.9,294.2 1001.8,294.2 1001.8,314.5 991.6,314.5 991.6,294.2 986.5,294.2" fill="#ffff00"/>
<polygon points="997.7,286.2 1014.4,299.8 1009.6,301.7 1017.4,320.5 1008.0,324.4 1000.2,305.6 995.5,307.6" fill="#ff0000"/>
<polygon points="999.9,290.5 1020.4,296.6 1016.8,300.2 1031.2,314.6 1024.0,321.8 1009.6,307.4 1006.0,311.0" fill="#ff0000"/>
</g>
<text x="1011.5" y="401" font-size="10.5" text-anchor="end" fill="#a4a4a4" textLength="118.5" lengthAdjust="spacing">www.seabreeze.com.au</text>
<g stroke="#000" stroke-width="1" fill="none" shape-rendering="crispEdges">
<line x1="62.5" y1="124" x2="62.5" y2="418"/>
<line x1="1018.5" y1="124" x2="1018.5" y2="409"/>
<line x1="57.0" y1="408.5" x2="63.0" y2="408.5"/>
<line x1="58.0" y1="396.5" x2="63.0" y2="396.5"/>
<line x1="58.0" y1="384.5" x2="63.0" y2="384.5"/>
<line x1="58.0" y1="372.5" x2="63.0" y2="372.5"/>
<line x1="57.0" y1="361.5" x2="63.0" y2="361.5"/>
<line x1="58.0" y1="349.5" x2="63.0" y2="349.5"/>
<line x1="58.0" y1="337.5" x2="63.0" y2="337.5"/>
<line x1="58.0" y1="325.5" x2="63.0" y2="325.5"/>
<line x1="57.0" y1="313.5" x2="63.0" y2="313.5"/>
<line x1="58.0" y1="302.5" x2="63.0" y2="302.5"/>
<line x1="58.0" y1="290.5" x2="63.0" y2="290.5"/>
<line x1="58.0" y1="278.5" x2="63.0" y2="278.5"/>
<line x1="57.0" y1="266.5" x2="63.0" y2="266.5"/>
<line x1="58.0" y1="254.5" x2="63.0" y2="254.5"/>
<line x1="58.0" y1="242.5" x2="63.0" y2="242.5"/>
<line x1="58.0" y1="230.5" x2="63.0" y2="230.5"/>
<line x1="57.0" y1="219.5" x2="63.0" y2="219.5"/>
<line x1="58.0" y1="207.5" x2="63.0" y2="207.5"/>
<line x1="58.0" y1="195.5" x2="63.0" y2="195.5"/>
<line x1="58.0" y1="183.5" x2="63.0" y2="183.5"/>
<line x1="57.0" y1="171.5" x2="63.0" y2="171.5"/>
<line x1="58.0" y1="160.5" x2="63.0" y2="160.5"/>
<line x1="58.0" y1="148.5" x2="63.0" y2="148.5"/>
<line x1="58.0" y1="136.5" x2="63.0" y2="136.5"/>
<line x1="57.0" y1="124.5" x2="63.0" y2="124.5"/>
<line x1="1018.0" y1="408.5" x2="1024.0" y2="408.5"/>
<line x1="1018.0" y1="399.5" x2="1023.0" y2="399.5"/>
<line x1="1018.0" y1="389.5" x2="1023.0" y2="389.5"/>
<line x1="1018.0" y1="380.5" x2="1023.0" y2="380.5"/>
<line x1="1018.0" y1="370.5" x2="1023.0" y2="370.5"/>
<line x1="1018.0" y1="361.5" x2="1024.0" y2="361.5"/>
<line x1="1018.0" y1="351.5" x2="1023.0" y2="351.5"/>
<line x1="1018.0" y1="342.5" x2="1023.0" y2="342.5"/>
<line x1="1018.0" y1="332.5" x2="1023.0" y2="332.5"/>
<line x1="1018.0" y1="323.5" x2="1023.0" y2="323.5"/>
<line x1="1018.0" y1="313.5" x2="1024.0" y2="313.5"/>
<line x1="1018.0" y1="304.5" x2="1023.0" y2="304.5"/>
<line x1="1018.0" y1="294.5" x2="1023.0" y2="294.5"/>
<line x1="1018.0" y1="285.5" x2="1023.0" y2="285.5"/>
<line x1="1018.0" y1="275.5" x2="1023.0" y2="275.5"/>
<line x1="1018.0" y1="266.5" x2="1024.0" y2="266.5"/>
<line x1="1018.0" y1="257.5" x2="1023.0" y2="257.5"/>
<line x1="1018.0" y1="247.5" x2="1023.0" y2="247.5"/>
<line x1="1018.0" y1="238.5" x2="1023.0" y2="238.5"/>
<line x1="1018.0" y1="228.5" x2="1023.0" y2="228.5"/>
<line x1="1018.0" y1="219.5" x2="1024.0" y2="219.5"/>
<line x1="1018.0" y1="209.5" x2="1023.0" y2="209.5"/>
<line x1="1018.0" y1="200.5" x2="1023.0" y2="200.5"/>
<line x1="1018.0" y1="190.5" x2="1023.0" y2="190.5"/>
<line x1="1018.0" y1="181.5" x2="1023.0" y2="181.5"/>
<line x1="1018.0" y1="171.5" x2="1024.0" y2="171.5"/>
<line x1="1018.0" y1="162.5" x2="1023.0" y2="162.5"/>
<line x1="1018.0" y1="152.5" x2="1023.0" y2="152.5"/>
<line x1="1018.0" y1="143.5" x2="1023.0" y2="143.5"/>
<line x1="1018.0" y1="133.5" x2="1023.0" y2="133.5"/>
<line x1="1018.0" y1="124.5" x2="1024.0" y2="124.5"/>
<line x1="96.5" y1="408" x2="96.5" y2="413"/>
<line x1="130.5" y1="408" x2="130.5" y2="413"/>
<line x1="165.5" y1="408" x2="165.5" y2="413"/>
<line x1="199.5" y1="408" x2="199.5" y2="418"/>
<line x1="233.5" y1="408" x2="233.5" y2="413"/>
<line x1="267.5" y1="408" x2="267.5" y2="413"/>
<line x1="301.5" y1="408" x2="301.5" y2="413"/>
<line x1="335.5" y1="408" x2="335.5" y2="418"/>
<line x1="369.5" y1="408" x2="369.5" y2="413"/>
<line x1="404.5" y1="408" x2="404.5" y2="413"/>
<line x1="438.5" y1="408" x2="438.5" y2="413"/>
<line x1="472.5" y1="408" x2="472.5" y2="418"/>
<line x1="506.5" y1="408" x2="506.5" y2="413"/>
<line x1="540.5" y1="408" x2="540.5" y2="413"/>
<line x1="574.5" y1="408" x2="574.5" y2="413"/>
<line x1="609.5" y1="408" x2="609.5" y2="418"/>
<line x1="643.5" y1="408" x2="643.5" y2="413"/>
<line x1="677.5" y1="408" x2="677.5" y2="413"/>
<line x1="711.5" y1="408" x2="711.5" y2="413"/>
<line x1="745.5" y1="408" x2="745.5" y2="418"/>
<line x1="779.5" y1="408" x2="779.5" y2="413"/>
<line x1="813.5" y1="408" x2="813.5" y2="413"/>
<line x1="848.5" y1="408" x2="848.5" y2="413"/>
<line x1="882.5" y1="408" x2="882.5" y2="418"/>
<line x1="916.5" y1="408" x2="916.5" y2="413"/>
<line x1="950.5" y1="408" x2="950.5" y2="413"/>
<line x1="984.5" y1="408" x2="984.5" y2="413"/>
<line x1="62" y1="408.5" x2="75" y2="408.5"/>
</g>
<line x1="75" y1="408.5" x2="1018" y2="408.5" stroke="#2a6a96" stroke-width="1" shape-rendering="crispEdges"/>
<text x="51" y="413.2" font-size="16" text-anchor="end" fill="#000">0</text>
<text x="51" y="365.9" font-size="16" text-anchor="end" fill="#000">1</text>
<text x="51" y="318.5" font-size="16" text-anchor="end" fill="#000">2</text>
<text x="51" y="271.2" font-size="16" text-anchor="end" fill="#000">3</text>
<text x="51" y="223.9" font-size="16" text-anchor="end" fill="#000">4</text>
<text x="51" y="176.5" font-size="16" text-anchor="end" fill="#000">5</text>
<text x="51" y="129.2" font-size="16" text-anchor="end" fill="#000">6</text>
<text x="1027.8" y="413.3" font-size="16.3" text-anchor="start" fill="#000">0</text>
<text x="1027.8" y="366.0" font-size="16.3" text-anchor="start" fill="#000">5</text>
<text x="1027.8" y="318.6" font-size="16.3" text-anchor="start" fill="#000" letter-spacing="0.9">10</text>
<text x="1027.8" y="271.3" font-size="16.3" text-anchor="start" fill="#000" letter-spacing="0.9">15</text>
<text x="1027.8" y="224.0" font-size="16.3" text-anchor="start" fill="#000" letter-spacing="0.9">20</text>
<text x="1027.8" y="176.6" font-size="16.3" text-anchor="start" fill="#000" letter-spacing="0.9">25</text>
<text x="1027.8" y="129.3" font-size="16.3" text-anchor="start" fill="#000" letter-spacing="0.9">30</text>
<text transform="translate(20.7,267.5) rotate(-90)" font-size="23" text-anchor="middle" fill="#000" textLength="221" lengthAdjust="spacing">Wave Height - Metres</text>
<text transform="translate(1058.6,264.6) rotate(90)" font-size="23" text-anchor="middle" fill="#000" textLength="204" lengthAdjust="spacing">Wind Speed - Knots</text>
<text x="128.3" y="435" font-size="16.3" text-anchor="middle" fill="#000" textLength="58.8" lengthAdjust="spacing">Monday</text>
<text x="129.7" y="458.2" font-size="17" text-anchor="middle" fill="#808080" textLength="39.9" lengthAdjust="spacing">12th</text>
<text x="265.7" y="435" font-size="16.3" text-anchor="middle" fill="#000" textLength="64.0" lengthAdjust="spacing">Tuesday</text>
<text x="266.1" y="458.2" font-size="17" text-anchor="middle" fill="#808080" textLength="39.9" lengthAdjust="spacing">13th</text>
<text x="399.9" y="435" font-size="16.3" text-anchor="middle" fill="#000" textLength="87.9" lengthAdjust="spacing">Wednesday</text>
<text x="403.2" y="458.2" font-size="17" text-anchor="middle" fill="#808080" textLength="39.9" lengthAdjust="spacing">14th</text>
<text x="538.7" y="435" font-size="16.3" text-anchor="middle" fill="#000" textLength="70.0" lengthAdjust="spacing">Thursday</text>
<text x="539.6" y="458.2" font-size="17" text-anchor="middle" fill="#808080" textLength="39.9" lengthAdjust="spacing">15th</text>
<text x="675.5" y="435" font-size="16.3" text-anchor="middle" fill="#000" textLength="46.4" lengthAdjust="spacing">Friday</text>
<text x="676.1" y="458.2" font-size="17" text-anchor="middle" fill="#808080" textLength="39.9" lengthAdjust="spacing">16th</text>
<text x="814.1" y="435" font-size="16.3" text-anchor="middle" fill="#000" textLength="70.2" lengthAdjust="spacing" font-weight="bold">Saturday</text>
<text x="812.5" y="458.2" font-size="17" text-anchor="middle" fill="#808080" textLength="39.9" lengthAdjust="spacing">17th</text>
<text x="950.4" y="435" font-size="16.3" text-anchor="middle" fill="#000" textLength="58.1" lengthAdjust="spacing" font-weight="bold">Sunday</text>
<text x="949.5" y="458.2" font-size="17" text-anchor="middle" fill="#808080" textLength="39.9" lengthAdjust="spacing">18th</text>
</svg>
</body></html>
